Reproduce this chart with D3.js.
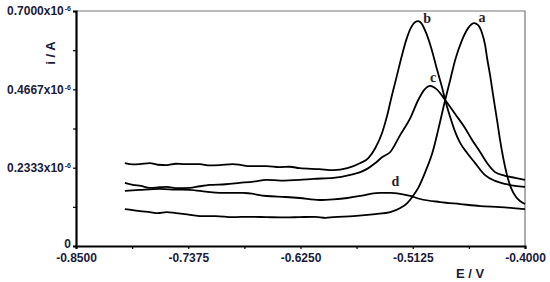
<!DOCTYPE html>
<html>
<head>
<meta charset="utf-8">
<script src="https://cdn.jsdelivr.net/npm/d3@7"></script>
<style>
  body { margin: 0; background: #fff; }
  svg { display: block; }
  .bold-text { font-family: "Liberation Sans", Arial, "DejaVu Sans", sans-serif; font-weight: 700; }
</style>
</head>
<body>
<svg width="550" height="282"></svg>
<script>
// voltammograms, [E (V), i (x10^-6 A)]
const curveA = [
  [-0.801, 0.110], [-0.793, 0.107], [-0.786, 0.104], [-0.776, 0.101], [-0.768, 0.098],
  [-0.759, 0.101], [-0.750, 0.098], [-0.741, 0.095], [-0.726, 0.089], [-0.710, 0.089],
  [-0.693, 0.086], [-0.676, 0.087], [-0.659, 0.086], [-0.640, 0.085], [-0.626, 0.086],
  [-0.610, 0.087], [-0.600, 0.084], [-0.592, 0.086], [-0.572, 0.089], [-0.550, 0.095],
  [-0.535, 0.101], [-0.525, 0.113], [-0.518, 0.128], [-0.513, 0.146], [-0.507, 0.173],
  [-0.500, 0.220], [-0.492, 0.286], [-0.487, 0.346], [-0.480, 0.435], [-0.475, 0.494],
  [-0.470, 0.554], [-0.463, 0.614], [-0.457, 0.649], [-0.451, 0.664], [-0.447, 0.658],
  [-0.443, 0.634], [-0.440, 0.599], [-0.438, 0.560], [-0.435, 0.509], [-0.432, 0.450],
  [-0.428, 0.375], [-0.425, 0.316], [-0.422, 0.265], [-0.418, 0.211], [-0.414, 0.173],
  [-0.409, 0.146], [-0.405, 0.134], [-0.400, 0.125],
];
const curveB = [
  [-0.801, 0.247], [-0.793, 0.243], [-0.786, 0.244], [-0.776, 0.247], [-0.768, 0.242],
  [-0.759, 0.241], [-0.750, 0.245], [-0.741, 0.244], [-0.726, 0.244], [-0.716, 0.240],
  [-0.706, 0.241], [-0.693, 0.244], [-0.684, 0.241], [-0.676, 0.238], [-0.659, 0.238],
  [-0.646, 0.235], [-0.636, 0.236], [-0.626, 0.232], [-0.606, 0.229], [-0.592, 0.226],
  [-0.578, 0.232], [-0.565, 0.247], [-0.557, 0.262], [-0.550, 0.292], [-0.543, 0.339],
  [-0.538, 0.390], [-0.534, 0.441], [-0.529, 0.500], [-0.524, 0.560], [-0.519, 0.614],
  [-0.514, 0.652], [-0.510, 0.667], [-0.507, 0.670], [-0.504, 0.664], [-0.499, 0.634],
  [-0.494, 0.590], [-0.488, 0.524], [-0.483, 0.471], [-0.480, 0.435], [-0.475, 0.384],
  [-0.470, 0.340], [-0.465, 0.307], [-0.458, 0.277], [-0.450, 0.247], [-0.440, 0.211],
  [-0.430, 0.194], [-0.420, 0.185], [-0.410, 0.179], [-0.400, 0.176],
];
const curveC = [
  [-0.801, 0.188], [-0.793, 0.182], [-0.785, 0.179], [-0.776, 0.173], [-0.766, 0.175],
  [-0.759, 0.176], [-0.748, 0.172], [-0.736, 0.173], [-0.726, 0.178], [-0.716, 0.182],
  [-0.700, 0.184], [-0.686, 0.188], [-0.672, 0.192], [-0.659, 0.197], [-0.645, 0.195],
  [-0.626, 0.197], [-0.612, 0.200], [-0.592, 0.203], [-0.575, 0.212], [-0.565, 0.220],
  [-0.557, 0.232], [-0.550, 0.247], [-0.543, 0.265], [-0.535, 0.280], [-0.525, 0.331],
  [-0.515, 0.381], [-0.507, 0.435], [-0.501, 0.465], [-0.495, 0.477], [-0.489, 0.468],
  [-0.480, 0.435], [-0.470, 0.393], [-0.460, 0.351], [-0.453, 0.316], [-0.445, 0.280],
  [-0.438, 0.247], [-0.430, 0.220], [-0.420, 0.209], [-0.410, 0.203], [-0.400, 0.197],
];
const curveD = [
  [-0.801, 0.164], [-0.786, 0.167], [-0.766, 0.170], [-0.750, 0.168], [-0.736, 0.167],
  [-0.720, 0.162], [-0.706, 0.158], [-0.683, 0.158], [-0.659, 0.149], [-0.640, 0.146],
  [-0.626, 0.143], [-0.606, 0.137], [-0.592, 0.139], [-0.578, 0.143], [-0.565, 0.149],
  [-0.555, 0.155], [-0.545, 0.158], [-0.535, 0.158], [-0.525, 0.155], [-0.515, 0.149],
  [-0.505, 0.140], [-0.485, 0.131], [-0.465, 0.125], [-0.445, 0.119], [-0.425, 0.116],
  [-0.400, 0.110],
];

const curveNames = ['a', 'b', 'c', 'd'];
const labelSpots = [[-0.443, 0.682], [-0.498, 0.679], [-0.492, 0.503], [-0.530, 0.194]];

const xTicks = [-0.85, -0.79375, -0.7375, -0.68125, -0.625, -0.56875, -0.5125, -0.45625, -0.40];
const xLabels = ['-0.8500', '', '-0.7375', '', '-0.6250', '', '-0.5125', '', '-0.4000'];
const yTicks = [0, 0.11667, 0.23333, 0.35, 0.46667, 0.58333, 0.70];
const yLabels = ['0', '', '0.2333x10', '', '0.4667x10', '', '0.7000x10'];

const svg = d3.select('svg');
const width = +svg.attr('width');
const height = +svg.attr('height');

const margin = { left: 76, right: 25, top: 11, bottom: 36 };
const innerWidth = width - margin.left - margin.right;
const innerHeight = height - margin.top - margin.bottom;

const textColor = '#1b1b3a';

const xScale = d3.scaleLinear().domain([-0.85, -0.40]).range([0, innerWidth]);
const yScale = d3.scaleLinear().domain([0, 0.70]).range([innerHeight, 0]);

const g = svg.append('g').attr('transform', `translate(${margin.left}, ${margin.top})`);

// thin frame on top and right
g.append('path')
  .attr('d', `M0,0H${innerWidth}V${innerHeight}`)
  .attr('fill', 'none')
  .attr('stroke', '#777')
  .attr('stroke-width', 1.2);

const xAxis = d3.axisBottom(xScale)
  .tickValues(xTicks)
  .tickFormat((d, i) => xLabels[i])
  .tickSize(3)
  .tickPadding(2);

const yAxis = d3.axisLeft(yScale)
  .tickValues(yTicks)
  .tickFormat((d, i) => yLabels[i])
  .tickSize(3)
  .tickPadding(2);

const xG = g.append('g').attr('transform', `translate(0, ${innerHeight})`).call(xAxis);
const yG = g.append('g').call(yAxis);

[xG, yG].forEach((ax) => {
  ax.attr('font-family', null).attr('font-size', null);
  ax.select('.domain').attr('stroke', '#000').attr('stroke-width', 2.2);
  ax.selectAll('.tick line').attr('stroke', '#000').attr('stroke-width', 1.2);
  ax.selectAll('.tick text').filter(function () { return this.textContent === ''; }).remove();
  ax.selectAll('.tick text')
    .attr('class', 'bold-text')
    .attr('fill', textColor)
    .style('font-size', '12px');
});

// superscript exponent on the y labels
yG.selectAll('.tick text')
  .filter(function () { return this.textContent.includes('x10'); })
  .append('tspan')
  .attr('dx', 1)
  .attr('dy', -4)
  .style('font-size', '7px')
  .text('-6');
yG.selectAll('.tick text').filter(function () { return this.textContent === '0'; }).attr('dy', '0.15em');
xG.selectAll('.tick text').attr('dy', '0.9em');

// axis titles
g.append('text')
  .attr('class', 'bold-text')
  .attr('transform', `translate(-21, 42) rotate(-90)`)
  .attr('text-anchor', 'middle')
  .attr('fill', textColor)
  .style('font-size', '13px')
  .text('i / A');

g.append('text')
  .attr('class', 'bold-text')
  .attr('x', innerWidth - 55)
  .attr('y', innerHeight + 32)
  .attr('text-anchor', 'middle')
  .attr('fill', textColor)
  .style('font-size', '13px')
  .text('E / V');

// curves
const line = d3.line()
  .x((d) => xScale(d[0]))
  .y((d) => yScale(d[1]))
  .curve(d3.curveMonotoneX);

g.selectAll('path.curve')
  .data([curveA, curveB, curveC, curveD])
  .enter()
  .append('path')
  .attr('class', 'curve')
  .attr('d', line)
  .attr('fill', 'none')
  .attr('stroke', '#000')
  .attr('stroke-width', 1.8)
  .attr('stroke-linejoin', 'round');

g.selectAll('text.lbl')
  .data(curveNames)
  .enter()
  .append('text')
  .attr('class', 'lbl')
  .attr('x', (d, i) => xScale(labelSpots[i][0]))
  .attr('y', (d, i) => yScale(labelSpots[i][1]))
  .attr('dy', '0.35em')
  .attr('text-anchor', 'middle')
  .attr('fill', '#2a1e2e')
  .style('font-family', '"Liberation Serif", "Times New Roman", serif')
  .style('font-size', '14px')
  .style('font-weight', 'bold')
  .text((d) => d);
</script>
</body>
</html>
